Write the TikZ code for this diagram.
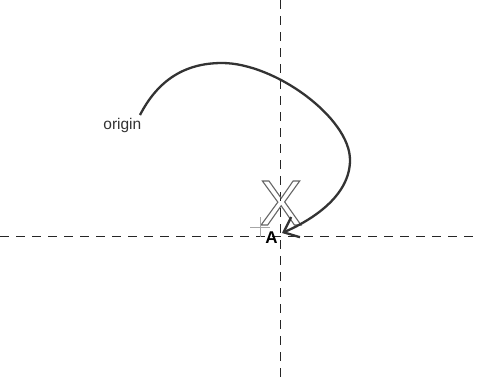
\documentclass[tikz,border=0pt]{standalone}
\usepackage{fontspec}
\setmainfont{Liberation Sans}
\usetikzlibrary{arrows.meta}
\tikzset{
  axis/.style={draw=black!85, line width=0.9pt, dash pattern=on 9pt off 7pt},
  curve/.style={draw=black!80, line width=2.3pt, -{Straight Barb[length=13pt,width=22pt]}},
  lbl/.style={inner sep=0pt, font=\fontsize{15.5}{16}\selectfont, text=black!80},
  marker/.style={draw=black!35, line width=0.8pt}
}
\begin{document}
\begin{tikzpicture}[x=1pt,y=-1pt]
\useasboundingbox (0,0) rectangle (477,381);
\coordinate (hl) at (0,236);
\coordinate (hr) at (477,236);
\coordinate (vt) at (280,0);
\coordinate (vb) at (280,381);
\draw[axis] (hl) -- (hr);
\draw[axis] (vt) -- (vb);
\node[inner sep=0pt, anchor=base, font=\fontsize{64}{64}\selectfont] (X) at (281,225) {\special{pdf:literal 1 Tr 1.1 w 0.4 G}X\special{pdf:literal 0 Tr}};
\coordinate (m) at (260,227);
\draw[marker] ([xshift=-10pt]m) -- ([xshift=10pt]m);
\draw[marker] ([yshift=-10pt]m) -- ([yshift=10pt]m);
\node[inner sep=0pt, anchor=south, font=\bfseries\fontsize{17}{17}\selectfont] (A) at (271.5,243.5) {A};
\node[lbl, anchor=east] (origin) at (141.5,125) {origin};
\coordinate (s) at (140,115);
\coordinate (e) at (282,233);
\draw[curve] (s) .. controls (158,80) and (185,63) .. (222,63)
  .. controls (275,63) and (350,118) .. (350,160)
  .. controls (350,196) and (312,220) .. (e);
\end{tikzpicture}
\end{document}
